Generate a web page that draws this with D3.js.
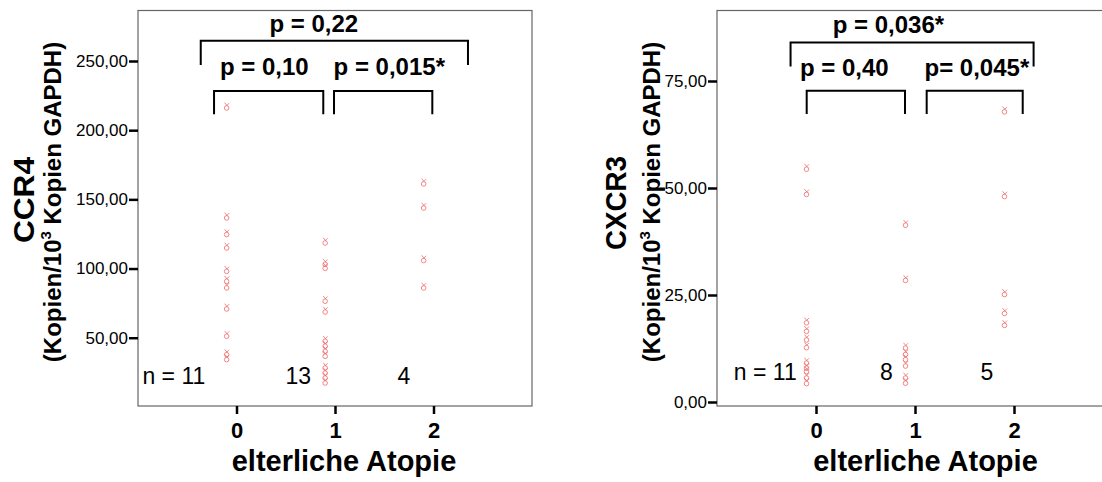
<!DOCTYPE html>
<html>

<head>
    <meta charset="utf-8">
    <style>
        body {
            margin: 0;
            background: white;
        }

        svg {
            font-family: 'Liberation Sans', Arial, sans-serif;
        }

        .frame {
            fill: none;
            stroke: #666;
            stroke-width: 1.2;
        }

        .axis path.domain {
            display: none;
        }

        .axis line {
            stroke: #000;
            stroke-width: 2.5;
        }

        .bracket {
            fill: none;
            stroke: #000;
            stroke-width: 2;
        }

        .pt {
            fill: none;
            stroke: #f06a6a;
            stroke-width: 1;
            opacity: 0.8;
        }
    </style>
</head>

<body>
    <svg width="1102" height="482"></svg>
</body>

<script src="https://d3js.org/d3.v7.min.js"></script>

<script>
    // ---- data ----
    let categories = [0, 1, 2]

    // CCR4, copies per 10^3 copies GAPDH, per group of parental atopy
    let ccr4Group0 = [217.0, 137.5, 125.5, 115.8, 98.9, 91.7, 86.9, 71.7, 52.0, 38.7, 35.1]
    let ccr4Group1 = [119.4, 104.0, 101.1, 77.3, 69.5, 48.4, 44.8, 41.1, 37.5, 29.1, 25.4, 21.8, 18.2]
    let ccr4Group2 = [162.1, 144.7, 106.7, 86.9]

    // CXCR3
    let cxcr3Group0 = [54.7, 48.8, 18.8, 16.8, 14.8, 13.0, 9.4, 8.2, 7.4, 5.9, 4.6]
    let cxcr3Group1 = [41.6, 28.7, 12.9, 11.4, 10.2, 8.7, 5.9, 4.7]
    let cxcr3Group2 = [68.1, 48.3, 25.4, 21.0, 18.2]

    let ccr4Ticks = [50, 100, 150, 200, 250]
    let cxcr3Ticks = [0, 25, 50, 75]

    let ccr4N = ["n = 11", "13", "4"]
    let cxcr3N = ["n = 11", "8", "5"]

    let ccr4P = ["p = 0,22", "p = 0,10", "p = 0,015*"]
    let cxcr3P = ["p = 0,036*", "p = 0,40", "p= 0,045*"]

    let svg = d3.select("svg")

    let locale = d3.formatLocale({ decimal: ",", thousands: ".", grouping: [3], currency: ["", "€"] })
    let fmt = locale.format(".2f")

    function drawPanel(cfg) {
        let g = svg.append("g")

        let x = d3.scaleLinear()
            .domain([-1, 3])
            .range([cfg.left, cfg.left + 4 * cfg.unit])

        let y = d3.scaleLinear()
            .domain(cfg.yDomain)
            .range([cfg.yRange[0], cfg.yRange[1]])

        // frame
        g.append("rect")
            .attr("class", "frame")
            .attr("x", cfg.left)
            .attr("y", cfg.top)
            .attr("width", cfg.frameW)
            .attr("height", cfg.bottom - cfg.top)

        // y axis
        let yAxis = g.append("g")
            .attr("class", "axis")
            .attr("transform", "translate(" + cfg.left + ",0)")
            .call(d3.axisLeft(y).tickValues(cfg.ticks).tickSize(9).tickPadding(1).tickFormat(fmt))
        yAxis.selectAll("text")
            .style("font-size", "17px")
            .style("font-family", "'Liberation Sans', Arial, sans-serif")
            .attr("fill", "#000")

        // x axis
        let xAxis = g.append("g")
            .attr("class", "axis")
            .attr("transform", "translate(0," + cfg.bottom + ")")
            .call(d3.axisBottom(x).tickValues(categories).tickSize(8).tickPadding(8).tickFormat(d3.format("d")))
        xAxis.selectAll("text")
            .style("font-size", "22px")
            .style("font-weight", "bold")
            .style("font-family", "'Liberation Sans', Arial, sans-serif")
            .attr("fill", "#000")

        // x title
        g.append("text")
            .attr("x", cfg.xTitleX)
            .attr("y", 471)
            .attr("text-anchor", "middle")
            .style("font-size", "29px")
            .style("font-weight", "bold")
            .text("elterliche Atopie")

        // y title
        g.append("text")
            .attr("transform", "translate(" + cfg.titleX + "," + cfg.titleY + ") rotate(-90)")
            .attr("text-anchor", "middle")
            .attr("textLength", cfg.titleLen)
            .attr("lengthAdjust", "spacingAndGlyphs")
            .style("font-size", "30px")
            .style("font-weight", "bold")
            .text(cfg.title)

        let sub = g.append("text")
            .attr("transform", "translate(" + cfg.subX + ",202) rotate(-90)")
            .attr("text-anchor", "middle")
            .style("font-size", "24px")
            .style("font-weight", "bold")
        sub.append("tspan").text("(Kopien/10")
        sub.append("tspan").attr("dy", -10).style("font-size", "15px").text("3")
        sub.append("tspan").attr("dy", 10).text(" Kopien GAPDH)")

        // points
        cfg.groups.forEach((vals, i) => {
            let pts = g.append("g")
                .selectAll(".pt-" + i)
                .data(vals)
                .join("g")
                .attr("transform", d => "translate(" + x(categories[i] - cfg.offset) + "," + y(d) + ")")
            pts.append("circle")
                .attr("class", "pt")
                .attr("cy", 1.3)
                .attr("r", 2.3)
            pts.append("path")
                .attr("class", "pt")
                .attr("d", "M-2,-4 L0.5,-1 M2.5,-3.5 L0,-1")
        })

        // n labels
        g.selectAll(".nlab")
            .data(cfg.nLabels)
            .join("text")
            .attr("x", (d, i) => x(cfg.nPos[i]))
            .attr("y", cfg.nY)
            .attr("text-anchor", "middle")
            .style("font-size", "23px")
            .text(d => d)

        // significance brackets
        cfg.brackets.forEach((b, i) => {
            let x0 = x(b.from), x1 = x(b.to)
            let yTop = y(b.y), yLeg = y(b.leg)
            g.append("path")
                .attr("class", "bracket")
                .attr("d", "M" + x0 + "," + yLeg + " L" + x0 + "," + yTop + " L" + x1 + "," + yTop + " L" + x1 + "," + yLeg)
            g.append("text")
                .attr("x", x(b.labelX))
                .attr("y", yTop - b.gap)
                .attr("text-anchor", "middle")
                .style("font-size", "24px")
                .style("font-weight", "bold")
                .text(cfg.pLabels[i])
        })
    }

    drawPanel({
        left: 138, unit: 98.5, top: 10.5, bottom: 406, frameW: 394,
        yDomain: [0, 250], yRange: [406.9, 61],
        ticks: ccr4Ticks,
        groups: [ccr4Group0, ccr4Group1, ccr4Group2],
        offset: 0.1,
        title: "CCR4", titleLen: 86, titleX: 33.5, titleY: 200, subX: 61,
        xTitleX: 344,
        nLabels: ccr4N, nPos: [-0.636, 0.627, 1.70], nY: 384,
        pLabels: ccr4P,
        brackets: [
            { from: -0.363, to: 2.35, y: 264.7, leg: 247.1, labelX: 0.785, gap: 9 },
            { from: -0.228, to: 0.881, y: 228.3, leg: 211.5, labelX: 0.282, gap: 16 },
            { from: 0.99, to: 1.988, y: 228.3, leg: 211.5, labelX: 1.551, gap: 16 }
        ]
    })

    drawPanel({
        left: 717, unit: 99, top: 10.5, bottom: 406, frameW: 420,
        yDomain: [0, 75], yRange: [402, 81],
        ticks: cxcr3Ticks,
        groups: [cxcr3Group0, cxcr3Group1, cxcr3Group2],
        offset: 0.096,
        title: "CXCR3", titleLen: 94, titleX: 626, titleY: 203, subX: 660,
        xTitleX: 925.5,
        nLabels: cxcr3N, nPos: [-0.512, 0.711, 1.727], nY: 380,
        pLabels: cxcr3P,
        brackets: [
            { from: -0.257, to: 2.198, y: 84.0, leg: 78.4, labelX: 0.731, gap: 9 },
            { from: -0.094, to: 0.899, y: 72.7, leg: 67.3, labelX: 0.286, gap: 15 },
            { from: 1.118, to: 2.088, y: 72.7, leg: 67.3, labelX: 1.625, gap: 15 }
        ]
    })
</script>

</html>
